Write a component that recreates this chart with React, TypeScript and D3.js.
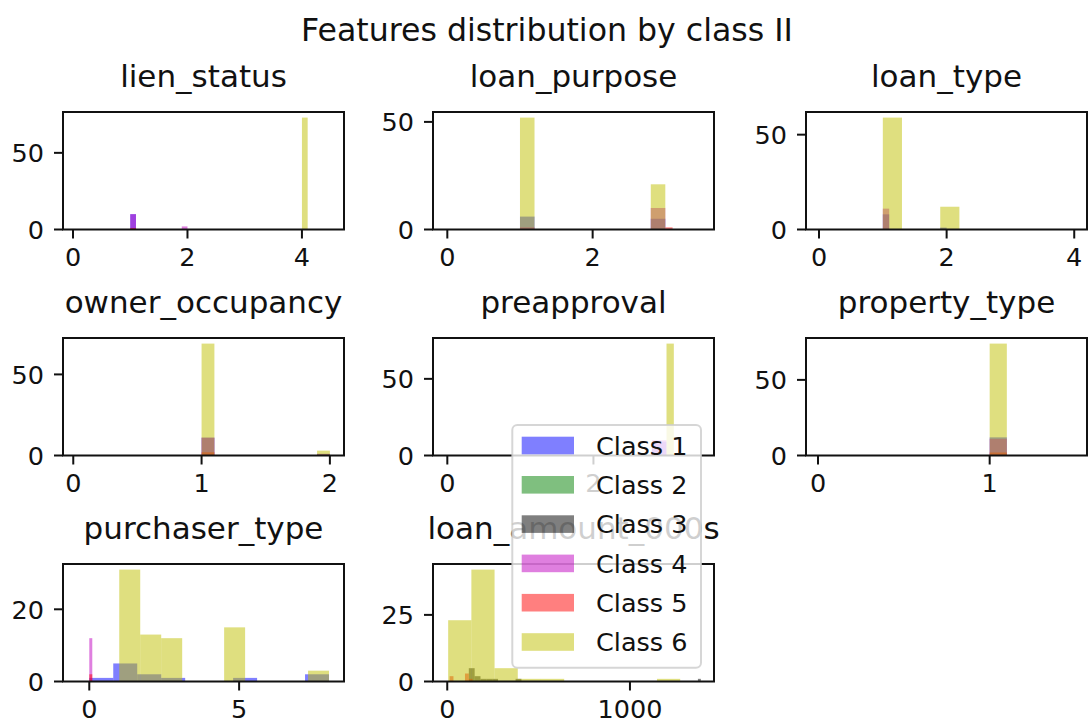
import React from "react";
import * as d3 from "d3";

type Bin = { cls: number; x0: number; x1: number; n: number };

const classNames = ["Class 1", "Class 2", "Class 3", "Class 4", "Class 5", "Class 6"];
const classColors = ["#0000ff", "#008000", "#000000", "#bf00bf", "#ff0000", "#bfbf00"];

// Histogram bins per feature: class index (1-6), bin edges and count.
const lienStatusBins: Bin[] = [
  { cls: 1, x0: 1.0, x1: 1.1, n: 10 },
  { cls: 4, x0: 1.0, x1: 1.1, n: 10 },
  { cls: 4, x0: 1.9, x1: 2.0, n: 2 },
  { cls: 5, x0: 1.0, x1: 1.1, n: 1 },
  { cls: 6, x0: 4.0, x1: 4.1, n: 73 },
];

const loanPurposeBins: Bin[] = [
  { cls: 1, x0: 1.0, x1: 1.2, n: 6 },
  { cls: 1, x0: 2.8, x1: 3.0, n: 5 },
  { cls: 4, x0: 1.0, x1: 1.2, n: 1 },
  { cls: 4, x0: 2.8, x1: 3.0, n: 10 },
  { cls: 5, x0: 3.0, x1: 3.1, n: 1 },
  { cls: 6, x0: 1.0, x1: 1.2, n: 52 },
  { cls: 6, x0: 2.8, x1: 3.0, n: 21 },
];

const loanTypeBins: Bin[] = [
  { cls: 1, x0: 1.0, x1: 1.1, n: 8 },
  { cls: 1, x0: 1.9, x1: 2.0, n: 1 },
  { cls: 4, x0: 1.0, x1: 1.1, n: 11 },
  { cls: 6, x0: 1.0, x1: 1.3, n: 59 },
  { cls: 6, x0: 1.9, x1: 2.2, n: 12 },
];

const ownerOccupancyBins: Bin[] = [
  { cls: 1, x0: 1.0, x1: 1.1, n: 11 },
  { cls: 1, x0: 1.9, x1: 2.0, n: 1 },
  { cls: 4, x0: 1.0, x1: 1.1, n: 11 },
  { cls: 4, x0: 1.9, x1: 2.0, n: 1 },
  { cls: 5, x0: 1.0, x1: 1.1, n: 2 },
  { cls: 6, x0: 1.0, x1: 1.1, n: 69 },
  { cls: 6, x0: 1.9, x1: 2.0, n: 3 },
];

const preapprovalBins: Bin[] = [
  { cls: 1, x0: 2.8, x1: 3.0, n: 9 },
  { cls: 4, x0: 2.8, x1: 3.0, n: 10 },
  { cls: 6, x0: 3.0, x1: 3.1, n: 73 },
];

const propertyTypeBins: Bin[] = [
  { cls: 1, x0: 1.0, x1: 1.1, n: 12 },
  { cls: 4, x0: 1.0, x1: 1.1, n: 11 },
  { cls: 5, x0: 1.0, x1: 1.1, n: 2 },
  { cls: 6, x0: 1.0, x1: 1.1, n: 74 },
];

const purchaserTypeBins: Bin[] = [
  { cls: 1, x0: 0.0, x1: 0.8, n: 1 },
  { cls: 1, x0: 0.8, x1: 1.6, n: 5 },
  { cls: 1, x0: 1.6, x1: 2.4, n: 2 },
  { cls: 1, x0: 2.4, x1: 3.2, n: 1 },
  { cls: 1, x0: 4.8, x1: 5.6, n: 1 },
  { cls: 1, x0: 7.2, x1: 8.0, n: 2 },
  { cls: 4, x0: 0.0, x1: 0.1, n: 12 },
  { cls: 5, x0: 0.0, x1: 0.1, n: 2 },
  { cls: 6, x0: 1.0, x1: 1.7, n: 31 },
  { cls: 6, x0: 1.7, x1: 2.4, n: 13 },
  { cls: 6, x0: 2.4, x1: 3.1, n: 12 },
  { cls: 6, x0: 4.5, x1: 5.2, n: 15 },
  { cls: 6, x0: 7.3, x1: 8.0, n: 3 },
];

const loanAmountBins: Bin[] = [
  { cls: 3, x0: 118, x1: 150, n: 5 },
  { cls: 3, x0: 150, x1: 182, n: 2 },
  { cls: 3, x0: 182, x1: 214, n: 1 },
  { cls: 3, x0: 214, x1: 246, n: 1 },
  { cls: 3, x0: 246, x1: 278, n: 1 },
  { cls: 3, x0: 374, x1: 406, n: 1 },
  { cls: 3, x0: 1372, x1: 1388, n: 1 },
  { cls: 5, x0: 13, x1: 34, n: 2 },
  { cls: 5, x0: 97, x1: 118, n: 3 },
  { cls: 5, x0: 118, x1: 139, n: 1 },
  { cls: 6, x0: 5, x1: 132, n: 23 },
  { cls: 6, x0: 132, x1: 259, n: 42 },
  { cls: 6, x0: 259, x1: 386, n: 5 },
  { cls: 6, x0: 386, x1: 513, n: 1 },
  { cls: 6, x0: 513, x1: 640, n: 1 },
  { cls: 6, x0: 1148, x1: 1275, n: 1 },
];

const featureTitles = [
  "lien_status",
  "loan_purpose",
  "loan_type",
  "owner_occupancy",
  "preapproval",
  "property_type",
  "purchaser_type",
  "loan_amount_000s",
];
const featureBins = [
  lienStatusBins,
  loanPurposeBins,
  loanTypeBins,
  ownerOccupancyBins,
  preapprovalBins,
  propertyTypeBins,
  purchaserTypeBins,
  loanAmountBins,
];
const featureXDomains: [number, number][] = [
  [-0.175, 4.735],
  [-0.197, 3.67],
  [-0.204, 4.2],
  [-0.08, 2.11],
  [-0.196, 3.65],
  [-0.07, 1.567],
  [-0.877, 8.5],
  [-78, 1460],
];
const featureXTicks = [[0, 2, 4], [0, 2], [0, 2, 4], [0, 1, 2], [0, 2], [0, 1], [0, 5], [0, 1000]];
const featureYTicks = [[0, 50], [0, 50], [0, 50], [0, 50], [0, 50], [0, 50], [0, 20], [0, 25]];

const W = 1088;
const H = 722;
const colLefts = [63, 433, 806];
const rowTops = [112, 338, 564];
const axW = 281;
const axH = 117.5;
const font = "DejaVu Sans";
const tickFont = 25.5;
const titleFont = 31;
const supTitleFont = 31.6;
const tickLen = 9;
const ink = "#111";

function Panel({ idx }: { idx: number }) {
  const col = idx % 3;
  const row = Math.floor(idx / 3);
  const left = colLefts[col];
  const top = rowTops[row];
  const bins = featureBins[idx];
  const maxN = d3.max(bins, (b) => b.n) ?? 1;
  const x = d3.scaleLinear().domain(featureXDomains[idx]).range([left, left + axW]);
  const y = d3.scaleLinear().domain([0, maxN * 1.05]).range([top + axH, top]);
  const bottom = top + axH;
  const ordered = d3.sort(bins, (b) => b.cls);
  return (
    <g>
      <text
        x={left + axW / 2}
        y={top - 25.5}
        textAnchor="middle"
        fontFamily={font}
        fontSize={titleFont}
        fill={ink}
      >
        {featureTitles[idx]}
      </text>
      {ordered.map((b, i) => (
        <rect
          key={i}
          x={x(b.x0)}
          y={y(b.n)}
          width={x(b.x1) - x(b.x0)}
          height={y(0) - y(b.n)}
          fill={classColors[b.cls - 1]}
          fillOpacity={0.5}
        />
      ))}
      <rect x={left} y={top} width={axW} height={axH} fill="none" stroke={ink} strokeWidth={2} />
      {featureXTicks[idx].map((t) => (
        <g key={"x" + t}>
          <line x1={x(t)} x2={x(t)} y1={bottom} y2={bottom + tickLen} stroke={ink} strokeWidth={2} />
          <text
            x={x(t)}
            y={bottom + 36}
            textAnchor="middle"
            fontFamily={font}
            fontSize={tickFont}
            fill={ink}
          >
            {d3.format("d")(t)}
          </text>
        </g>
      ))}
      {featureYTicks[idx].map((t) => (
        <g key={"y" + t}>
          <line x1={left - tickLen} x2={left} y1={y(t)} y2={y(t)} stroke={ink} strokeWidth={2} />
          <text
            x={left - 19}
            y={y(t) + 9.3}
            textAnchor="end"
            fontFamily={font}
            fontSize={tickFont}
            fill={ink}
          >
            {t}
          </text>
        </g>
      ))}
    </g>
  );
}

function Legend() {
  const lx = 512.3;
  const ly = 425;
  const rowY = d3.scaleLinear().domain([0, 5]).range([445.5, 642]);
  return (
    <g>
      <rect
        x={lx}
        y={ly}
        width={188.7}
        height={242.7}
        rx={5}
        fill="#fff"
        fillOpacity={0.8}
        stroke="#ccc"
        strokeOpacity={0.8}
        strokeWidth={2}
      />
      {classNames.map((name, i) => (
        <g key={name}>
          <rect
            x={521.7}
            y={rowY(i) - 8.8}
            width={52.3}
            height={17.6}
            fill={classColors[i]}
            fillOpacity={0.5}
          />
          <text x={596} y={rowY(i) + 9.3} fontFamily={font} fontSize={tickFont} fill={ink}>
            {name}
          </text>
        </g>
      ))}
    </g>
  );
}

export default function App() {
  return (
    <div style={{ position: "absolute", left: 0, top: 0 }}>
      <svg width={W} height={H} style={{ display: "block", background: "#fff" }}>
        <text
          x={547}
          y={40.7}
          textAnchor="middle"
          fontFamily={font}
          fontSize={supTitleFont}
          fill={ink}
        >
          Features distribution by class II
        </text>
        {featureTitles.map((_, i) => (
          <Panel key={i} idx={i} />
        ))}
        <Legend />
      </svg>
    </div>
  );
}
